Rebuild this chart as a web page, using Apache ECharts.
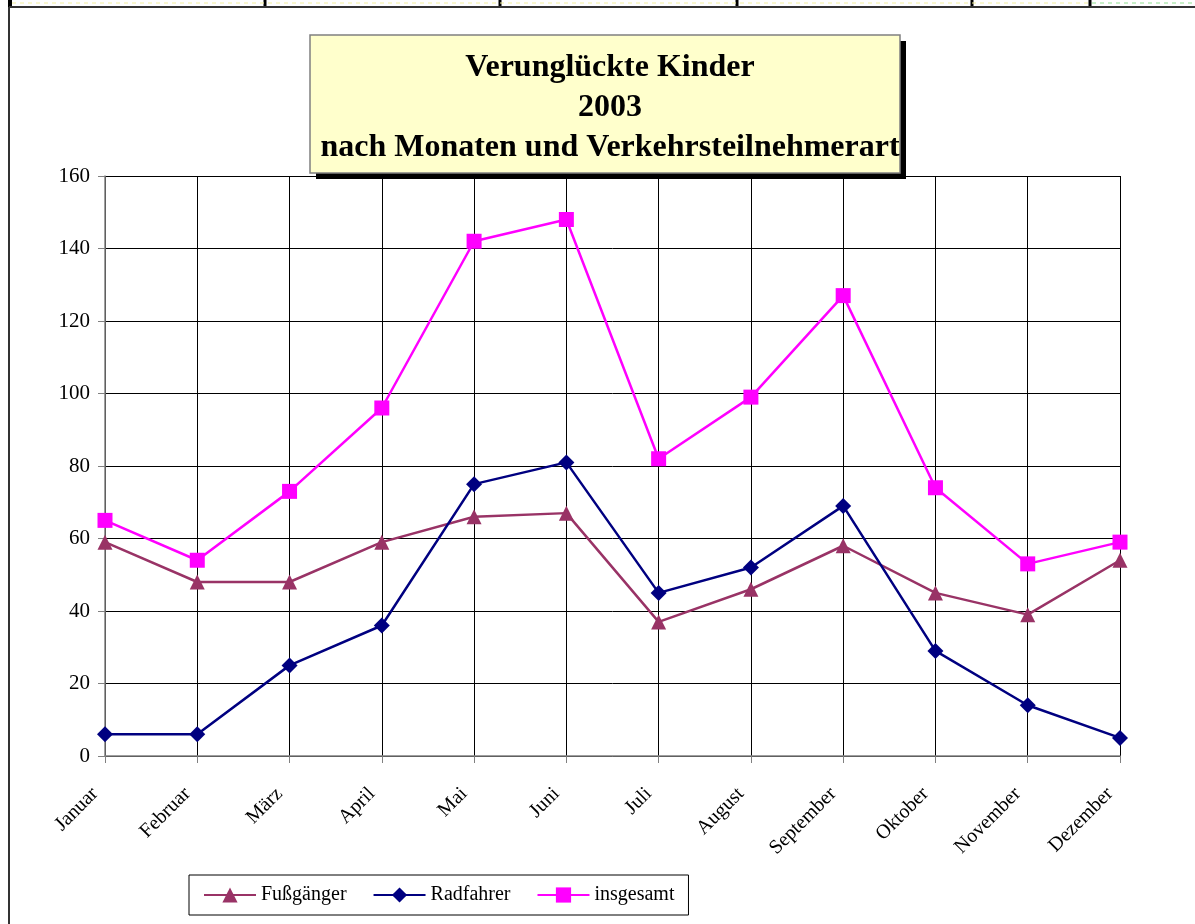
<!DOCTYPE html>
<html>
<head>
<meta charset="utf-8">
<script src="https://cdn.jsdelivr.net/npm/echarts@6/dist/echarts.min.js"></script>
<style>
  html, body { margin: 0; padding: 0; background: #fff; }
  #chart { width: 1195px; height: 924px; }
</style>
</head>
<body>
<div id="chart"></div>
<script>
// Verunglückte Kinder 2003 nach Monaten
var months = ['Januar', 'Februar', 'März', 'April', 'Mai', 'Juni', 'Juli', 'August', 'September', 'Oktober', 'November', 'Dezember']
var fussgaenger = [59, 48, 48, 59, 66, 67, 37, 46, 58, 45, 39, 54]
var radfahrer = [6, 6, 25, 36, 75, 81, 45, 52, 69, 29, 14, 5]
var insgesamt = [65, 54, 73, 96, 142, 148, 82, 99, 127, 74, 53, 59]
var titleLines = ['Verunglückte Kinder', '2003', 'nach Monaten und Verkehrsteilnehmerart']

var serif = "'Liberation Serif', 'Times New Roman', serif"
var chart = echarts.init(document.getElementById('chart'))

// spreadsheet cell borders peeking in at the top
var cellLines = [10, 265, 500, 737, 972, 1090]
var deco = cellLines.map(function (x) {
  return {
    type: 'line', silent: true,
    shape: { x1: x, y1: 0, x2: x, y2: 7 },
    style: { stroke: '#000', lineWidth: x === 10 ? 4 : 3 }
  }
})
deco.push(
  { type: 'line', silent: true, shape: { x1: 12, y1: 3, x2: 1088, y2: 3 },
    style: { stroke: '#f4f0a0', lineWidth: 1, lineDash: [4, 4] } },
  { type: 'line', silent: true, shape: { x1: 1092, y1: 3, x2: 1195, y2: 3 },
    style: { stroke: '#90e090', lineWidth: 1, lineDash: [4, 4] } },
  { type: 'line', silent: true, shape: { x1: 9, y1: 7, x2: 1195, y2: 7 },
    style: { stroke: '#333', lineWidth: 2 } },
  { type: 'line', silent: true, shape: { x1: 9, y1: 7, x2: 9, y2: 924 },
    style: { stroke: '#333', lineWidth: 2 } },
  // title box with hard shadow
  { type: 'rect', silent: true, z: 10, shape: { x: 316, y: 41, width: 590, height: 138 },
    style: { fill: '#000' } },
  { type: 'rect', silent: true, z: 11, shape: { x: 310, y: 35, width: 590, height: 138 },
    style: { fill: '#FFFFCC', stroke: '#808080', lineWidth: 1.5 } }
)

chart.setOption({
  animation: false,
  title: {
    text: titleLines.join('\n'),
    left: 605,
    top: 43,
    textAlign: 'center',
    z: 20,
    textStyle: {
      fontFamily: serif,
      fontWeight: 'bold',
      fontSize: 32,
      lineHeight: 40,
      color: '#000'
    }
  },
  graphic: { elements: deco },
  legend: {
    left: 189,
    top: 875,
    padding: [10, 14, 10, 14],
    borderColor: '#000',
    borderWidth: 1,
    itemGap: 26,
    itemWidth: 52,
    itemHeight: 19,
    textStyle: { fontFamily: serif, fontSize: 20, color: '#000' },
    data: ['Fußgänger', 'Radfahrer', 'insgesamt']
  },
  grid: {
    left: 105,
    right: 75,
    top: 176,
    bottom: 168,
    containLabel: false
  },
  xAxis: {
    type: 'category',
    data: months,
    boundaryGap: false,
    axisLine: { lineStyle: { color: '#808080', width: 1.5 } },
    axisTick: { show: true, length: 7, lineStyle: { color: '#808080' } },
    axisLabel: {
      rotate: 45,
      margin: 25,
      padding: [0, 14, 0, 0],
      fontFamily: serif,
      fontSize: 20,
      color: '#000'
    },
    splitLine: { show: true, lineStyle: { color: '#000', width: 1 } }
  },
  yAxis: {
    type: 'value',
    min: 0,
    max: 160,
    interval: 20,
    axisLine: { show: true, lineStyle: { color: '#808080', width: 1.5 } },
    axisTick: { show: true, length: 7, lineStyle: { color: '#808080' } },
    axisLabel: {
      margin: 15,
      fontFamily: serif,
      fontSize: 21,
      color: '#000'
    },
    splitLine: { show: true, lineStyle: { color: '#000', width: 1 } }
  },
  series: [{
    name: 'Fußgänger',
    type: 'line',
    data: fussgaenger,
    symbol: 'triangle',
    symbolSize: 15,
    itemStyle: { color: '#993366' },
    lineStyle: { color: '#993366', width: 2.5 }
  }, {
    name: 'Radfahrer',
    type: 'line',
    data: radfahrer,
    symbol: 'diamond',
    symbolSize: 16,
    itemStyle: { color: '#000080' },
    lineStyle: { color: '#000080', width: 2.5 }
  }, {
    name: 'insgesamt',
    type: 'line',
    data: insgesamt,
    symbol: 'rect',
    symbolSize: 15,
    itemStyle: { color: '#FF00FF' },
    lineStyle: { color: '#FF00FF', width: 2.5 }
  }]
})
</script>
</body>
</html>
